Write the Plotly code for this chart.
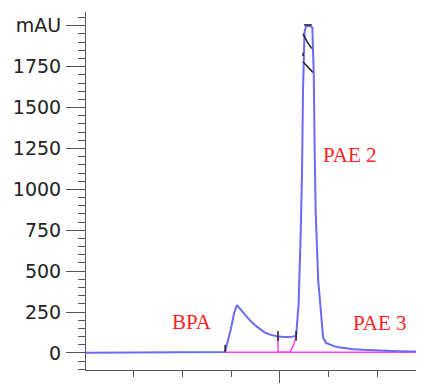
import plotly.graph_objects as go

# Chromatogram signal (time in min, absorbance in mAU)
t_signal = [1.04, 2.0, 3.0, 3.6, 3.88, 4.0, 4.06, 4.12, 4.2, 4.29, 4.4, 4.49, 4.6, 4.69, 4.8, 4.96, 5.1, 5.2, 5.33,
            5.38, 5.42, 5.45, 5.47, 5.5, 5.53, 5.6, 5.66, 5.69, 5.71, 5.73, 5.78, 5.84, 5.88, 5.94, 6.02,
            6.1, 6.2, 6.35, 6.5, 6.7, 6.9, 7.1, 7.4, 7.7, 7.94]
mau_signal = [2, 2, 3, 4, 6, 150, 240, 292, 265, 230, 195, 170, 145, 125, 112, 100, 97, 97, 104,
              300, 700, 1100, 1600, 1960, 1995, 2000, 1990, 1700, 1200, 850, 446, 200, 95, 62, 50,
              42, 35, 28, 23, 19, 16, 13, 11, 9, 8]

# Integration baseline
t_base = [3.88, 7.94]
mau_base = [5, 5]
t_drop = [4.96, 4.96, 5.2, 5.26, 5.33]
mau_drop = [98, 5, 6, 35, 100]

# Integration event markers
t_events = [3.88, 3.88, None, 4.96, 4.96, None, 5.33, 5.33, None,
            5.49, 5.65, None, 5.47, 5.56, 5.65, None, 5.47, 5.57, 5.67, None, 5.47, 5.47]
mau_events = [8, 50, None, 75, 135, None, 75, 135, None,
              2005, 2005, None, 1950, 1900, 1860, None, 1780, 1745, 1715, None, 1835, 1815]

# Peak labels
peak_names = ["BPA", "PAE 2", "PAE 3"]
peak_x = [3.21, 6.43, 7.04]
peak_y = [190, 1213, 183]

yticks = [0, 250, 500, 750, 1000, 1250, 1500, 1750, 2000]
ytick_text = ["0", "250", "500", "750", "1000", "1250", "1500", "1750", "mAU"]

fig = go.Figure()
fig.add_trace(go.Scatter(x=t_base, y=mau_base, mode="lines",
                         line=dict(color="#ff40ff", width=1.5), hoverinfo="skip"))
fig.add_trace(go.Scatter(x=t_drop, y=mau_drop, mode="lines",
                         line=dict(color="#ff40ff", width=1.5), hoverinfo="skip"))
fig.add_trace(go.Scatter(x=t_signal, y=mau_signal, mode="lines",
                         line=dict(color="#6a6af5", width=2)))
fig.add_trace(go.Scatter(x=t_events, y=mau_events, mode="lines",
                         line=dict(color="#222222", width=1.5), connectgaps=False))

for name, px, py in zip(peak_names, peak_x, peak_y):
    fig.add_annotation(x=px, y=py, text=name, showarrow=False,
                       xanchor="center", yanchor="middle",
                       font=dict(family="Liberation Serif", size=21, color="#ff2020"))

# the page body keeps an 8px default margin, so the figure is sized to fit inside it
fig.update_layout(
    width=416, height=376,
    margin=dict(l=78, r=0, t=4, b=14, autoexpand=False),
    paper_bgcolor="white", plot_bgcolor="white",
    showlegend=False,
    font=dict(family="DejaVu Sans", size=19, color="#222222"),
)
fig.update_xaxes(range=[1.04, 7.94], showgrid=False, zeroline=False, showline=True, automargin=False,
                 linecolor="#555555", linewidth=1,
                 tickvals=[5], ticks="outside", ticklen=12, tickcolor="#555555", showticklabels=False,
                 minor=dict(dtick=1, tick0=0, ticks="outside", ticklen=6, tickcolor="#555555"))
fig.update_yaxes(range=[-104, 2084], showgrid=False, zeroline=False, showline=True, automargin=False,
                 linecolor="#555555", linewidth=1,
                 tickvals=yticks, ticktext=ytick_text, ticks="outside", ticklen=19, tickcolor="#555555",
                 ticklabelstandoff=1,
                 minor=dict(dtick=50, tick0=0, ticks="outside", ticklen=7, tickcolor="#555555"))

fig.write_html("out.html")
